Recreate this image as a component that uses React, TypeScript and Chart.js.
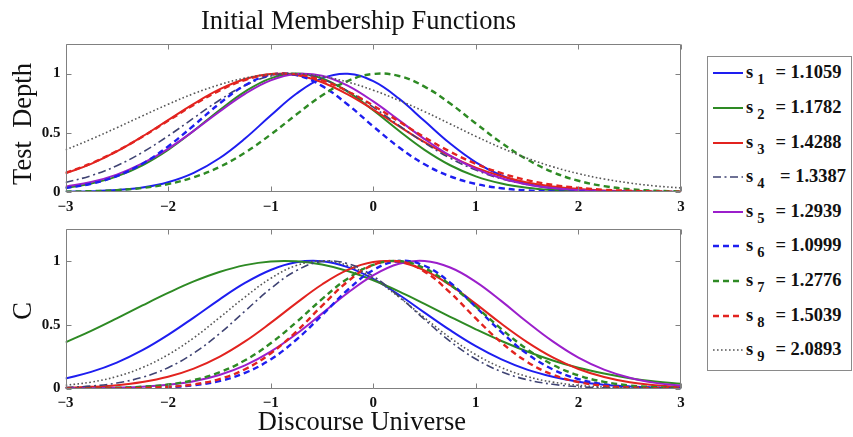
import React, { useEffect, useRef } from 'react';
import { Chart, registerables } from 'chart.js';

Chart.register(...registerables);

// ---------- data ----------
const X_GRID = [-3, -2.75, -2.5, -2.25, -2, -1.75, -1.5, -1.25, -1, -0.75, -0.5, -0.25, 0, 0.25, 0.5, 0.75, 1, 1.25, 1.5, 1.75, 2, 2.25, 2.5, 2.75, 3];

const X_TICKS = [-3, -2, -1, 0, 1, 2, 3];
const X_TICK_LABELS = ['\u22123', '\u22122', '\u22121', '0', '1', '2', '3'];
const Y_TICKS = [0, 0.5, 1];
const Y_TICK_LABELS = ['0', '0.5', '1'];

const TITLE = 'Initial Membership Functions';
const TOP_Y_TITLE = 'Test  Depth';
const BOTTOM_Y_TITLE = 'C';
const X_TITLE = 'Discourse Universe';

const SERIES_SUBSCRIPTS = ['1', '2', '3', '4', '5', '6', '7', '8', '9'];
const SERIES_S_TEXT = ['= 1.1059', '= 1.1782', '= 1.4288', ' = 1.3387', '= 1.2939', '= 1.0999', '= 1.2776', '= 1.5039', '= 2.0893'];

// Test Depth subplot
const TD_S1 = [0.002, 0.006, 0.016, 0.038, 0.083, 0.162, 0.285, 0.452, 0.646, 0.830, 0.960, 0.999, 0.936, 0.789, 0.599, 0.409, 0.251, 0.139, 0.069, 0.031, 0.013, 0.005, 0.002, 0.000, 0.000];
const TD_S2 = [0.035, 0.071, 0.132, 0.226, 0.356, 0.517, 0.690, 0.848, 0.960, 1.000, 0.960, 0.848, 0.690, 0.517, 0.356, 0.226, 0.132, 0.071, 0.035, 0.016, 0.007, 0.003, 0.001, 0.000, 0.000];
const TD_S3 = [0.157, 0.238, 0.343, 0.469, 0.607, 0.744, 0.866, 0.954, 0.997, 0.988, 0.927, 0.825, 0.696, 0.556, 0.421, 0.303, 0.206, 0.133, 0.081, 0.047, 0.026, 0.013, 0.007, 0.003, 0.001];
const TD_S4 = [0.081, 0.138, 0.222, 0.335, 0.473, 0.625, 0.775, 0.900, 0.979, 0.999, 0.954, 0.854, 0.717, 0.563, 0.415, 0.286, 0.185, 0.112, 0.064, 0.034, 0.017, 0.008, 0.003, 0.001, 0.001];
const TD_S5 = [0.045, 0.084, 0.147, 0.241, 0.365, 0.516, 0.678, 0.829, 0.943, 0.997, 0.982, 0.899, 0.765, 0.607, 0.447, 0.307, 0.196, 0.116, 0.064, 0.033, 0.016, 0.007, 0.003, 0.001, 0.000];
const TD_S6 = [0.033, 0.070, 0.135, 0.239, 0.385, 0.562, 0.746, 0.901, 0.989, 0.987, 0.896, 0.739, 0.554, 0.378, 0.234, 0.132, 0.068, 0.032, 0.013, 0.005, 0.002, 0.001, 0.000, 0.000, 0.000];
const TD_S7 = [0.003, 0.007, 0.016, 0.034, 0.067, 0.124, 0.211, 0.333, 0.485, 0.654, 0.815, 0.937, 0.997, 0.980, 0.890, 0.747, 0.579, 0.415, 0.275, 0.168, 0.095, 0.050, 0.024, 0.011, 0.004];
const TD_S8 = [0.161, 0.242, 0.345, 0.467, 0.601, 0.736, 0.856, 0.946, 0.994, 0.993, 0.943, 0.851, 0.730, 0.596, 0.462, 0.340, 0.238, 0.159, 0.100, 0.060, 0.035, 0.019, 0.010, 0.005, 0.002];
const TD_S9 = [0.356, 0.446, 0.543, 0.643, 0.741, 0.831, 0.906, 0.962, 0.994, 0.999, 0.976, 0.929, 0.860, 0.774, 0.679, 0.575, 0.470, 0.372, 0.286, 0.213, 0.155, 0.110, 0.076, 0.051, 0.034];

// C subplot
const C_S1 = [0.079, 0.130, 0.203, 0.300, 0.420, 0.556, 0.697, 0.827, 0.929, 0.989, 0.997, 0.951, 0.859, 0.735, 0.595, 0.457, 0.332, 0.228, 0.148, 0.092, 0.053, 0.030, 0.016, 0.008, 0.004];
const C_S2 = [0.361, 0.452, 0.550, 0.651, 0.749, 0.839, 0.913, 0.967, 0.996, 0.997, 0.972, 0.921, 0.848, 0.761, 0.663, 0.562, 0.464, 0.372, 0.290, 0.220, 0.162, 0.117, 0.081, 0.055, 0.037];
const C_S3 = [0.006, 0.013, 0.026, 0.051, 0.092, 0.156, 0.248, 0.369, 0.514, 0.669, 0.815, 0.930, 0.992, 0.991, 0.926, 0.810, 0.663, 0.507, 0.364, 0.244, 0.153, 0.090, 0.049, 0.025, 0.012];
const C_S4 = [0.008, 0.019, 0.043, 0.088, 0.163, 0.277, 0.429, 0.607, 0.783, 0.924, 0.995, 0.979, 0.880, 0.722, 0.541, 0.370, 0.231, 0.132, 0.069, 0.033, 0.014, 0.006, 0.002, 0.001, 0.000];
const C_S5 = [0.001, 0.002, 0.006, 0.013, 0.029, 0.057, 0.106, 0.181, 0.289, 0.427, 0.587, 0.749, 0.887, 0.977, 0.999, 0.948, 0.836, 0.685, 0.521, 0.369, 0.242, 0.148, 0.084, 0.044, 0.022];
const C_S6 = [0.000, 0.000, 0.001, 0.003, 0.010, 0.025, 0.058, 0.122, 0.228, 0.382, 0.574, 0.772, 0.928, 0.999, 0.962, 0.829, 0.639, 0.441, 0.272, 0.150, 0.074, 0.033, 0.013, 0.005, 0.002];
const C_S7 = [0.001, 0.002, 0.006, 0.014, 0.031, 0.066, 0.126, 0.221, 0.354, 0.520, 0.700, 0.861, 0.969, 0.999, 0.942, 0.813, 0.643, 0.465, 0.308, 0.186, 0.103, 0.052, 0.024, 0.010, 0.004];
const C_S8 = [0.000, 0.000, 0.001, 0.004, 0.013, 0.032, 0.074, 0.151, 0.275, 0.446, 0.648, 0.838, 0.968, 0.997, 0.916, 0.751, 0.549, 0.359, 0.209, 0.108, 0.050, 0.021, 0.008, 0.003, 0.001];
const C_S9 = [0.025, 0.050, 0.094, 0.164, 0.265, 0.397, 0.554, 0.717, 0.863, 0.964, 1.000, 0.964, 0.863, 0.717, 0.554, 0.397, 0.265, 0.164, 0.094, 0.050, 0.025, 0.011, 0.005, 0.002, 0.001];

const TEST_DEPTH_SERIES = [TD_S1, TD_S2, TD_S3, TD_S4, TD_S5, TD_S6, TD_S7, TD_S8, TD_S9];
const C_SERIES = [C_S1, C_S2, C_S3, C_S4, C_S5, C_S6, C_S7, C_S8, C_S9];

// ---------- styles ----------
const COLORS = ['#1e1ef0', '#2e8a24', '#e2231f', '#3f4373', '#9b1fcb', '#1e1ef0', '#2e8a24', '#e2231f', '#555555'];
const DASHES: number[][] = [[], [], [], [8, 3.5, 2, 3.5], [], [6, 4], [6, 4], [6, 4], [1.6, 2.4]];
const WIDTHS = [2, 2, 2, 1.6, 2, 2.4, 2.4, 2.4, 1.6];

const SERIF = "'Liberation Serif', 'Times New Roman', serif";
const TICK_FONT = { family: SERIF, size: 15, weight: 'bold' as const };

const framePlugin = {
  id: 'matlabFrame',
  afterDraw(chart: any) {
    const { ctx, chartArea: a, scales } = chart;
    const L = Math.round(a.left) + 0.5;
    const R = Math.round(a.right) - 0.5;
    const T = Math.round(a.top) + 0.5;
    const B = Math.round(a.bottom) - 0.5;
    const len = 5;
    ctx.save();
    ctx.strokeStyle = '#808080';
    ctx.lineWidth = 1;
    ctx.setLineDash([]);
    ctx.beginPath();
    ctx.rect(L, T, R - L, B - T);
    for (const t of scales.x.ticks) {
      const p = Math.round(scales.x.getPixelForValue(t.value)) + 0.5;
      ctx.moveTo(p, B);
      ctx.lineTo(p, B - len);
      ctx.moveTo(p, T);
      ctx.lineTo(p, T + len);
    }
    for (const t of scales.y.ticks) {
      const p = Math.round(scales.y.getPixelForValue(t.value)) + 0.5;
      ctx.moveTo(L, p);
      ctx.lineTo(L + len, p);
      ctx.moveTo(R, p);
      ctx.lineTo(R - len, p);
    }
    ctx.stroke();
    ctx.restore();
  },
};

function buildConfig(series: number[][], padTop: number, xHeight: number): any {
  return {
    type: 'line',
    data: {
      datasets: series.map((vals, i) => ({
        label: 's' + SERIES_SUBSCRIPTS[i],
        data: X_GRID.map((x, k) => ({ x, y: vals[k] })),
        borderColor: COLORS[i],
        backgroundColor: COLORS[i],
        borderWidth: WIDTHS[i],
        borderDash: DASHES[i],
        pointRadius: 0,
        tension: 0.4,
        fill: false,
        order: series.length - i,
      })),
    },
    options: {
      animation: false,
      responsive: false,
      maintainAspectRatio: false,
      events: [],
      layout: { padding: { top: padTop, right: 19, left: 0, bottom: 0 } },
      plugins: { legend: { display: false }, tooltip: { enabled: false }, title: { display: false } },
      scales: {
        x: {
          type: 'linear',
          min: -3,
          max: 3,
          afterBuildTicks: (s: any) => {
            s.ticks = X_TICKS.map((v) => ({ value: v }));
          },
          afterFit: (s: any) => {
            s.height = xHeight;
          },
          grid: { display: false, drawTicks: false },
          border: { display: false },
          ticks: {
            padding: 6,
            autoSkip: false,
            maxRotation: 0,
            color: '#111',
            font: TICK_FONT,
            callback: (_v: any, idx: number) => X_TICK_LABELS[idx],
          },
        },
        y: {
          type: 'linear',
          min: 0,
          max: 1.25,
          afterBuildTicks: (s: any) => {
            s.ticks = Y_TICKS.map((v) => ({ value: v }));
          },
          afterFit: (s: any) => {
            s.width = 65.5;
          },
          grid: { display: false, drawTicks: false },
          border: { display: false },
          ticks: {
            padding: 5,
            autoSkip: false,
            color: '#111',
            font: TICK_FONT,
            callback: (_v: any, idx: number) => Y_TICK_LABELS[idx],
          },
        },
      },
    },
    plugins: [framePlugin],
  };
}

function PlotCanvas(props: { series: number[][]; top: number; height: number; padTop: number; xHeight: number }) {
  const ref = useRef<HTMLCanvasElement | null>(null);
  useEffect(() => {
    if (!ref.current) return;
    const chart = new Chart(ref.current, buildConfig(props.series, props.padTop, props.xHeight));
    return () => chart.destroy();
  }, []);
  return (
    <canvas
      ref={ref}
      width={700}
      height={props.height}
      style={{ position: 'absolute', left: 0, top: props.top, width: 700, height: props.height }}
    />
  );
}

function RotatedLabel(props: { text: string; cx: number; cy: number; size: number }) {
  return (
    <div
      style={{
        position: 'absolute',
        left: props.cx,
        top: props.cy,
        transform: 'translate(-50%, -50%) rotate(-90deg)',
        fontFamily: SERIF,
        fontSize: props.size,
        lineHeight: props.size + 'px',
        whiteSpace: 'pre',
        color: '#111',
      }}
    >
      {props.text}
    </div>
  );
}

function LegendSample(props: { i: number }) {
  const i = props.i;
  return (
    <svg width={32} height={8} style={{ position: 'absolute', left: 0, top: -4 }}>
      <line
        x1={1}
        y1={4}
        x2={31}
        y2={4}
        stroke={COLORS[i]}
        strokeWidth={WIDTHS[i]}
        strokeDasharray={DASHES[i].length ? DASHES[i].join(' ') : undefined}
      />
    </svg>
  );
}

export default function App() {
  const rowY0 = 73.3;
  const rowStep = 34.6;
  return (
    <div style={{ position: 'absolute', left: 0, top: 0, width: 853, height: 437, background: '#fff', overflow: 'hidden' }}>
      <PlotCanvas series={TEST_DEPTH_SERIES} top={0} height={215} padTop={44} xHeight={23} />
      <PlotCanvas series={C_SERIES} top={215} height={222} padTop={8.5} xHeight={48.5} />

      <div
        style={{
          position: 'absolute',
          left: 0,
          width: 717,
          top: 6.5,
          textAlign: 'center',
          fontFamily: SERIF,
          fontSize: 26.5,
          lineHeight: '26px',
          color: '#111',
          whiteSpace: 'pre',
        }}
      >
        {TITLE}
      </div>

      <RotatedLabel text={TOP_Y_TITLE} cx={21.7} cy={123.5} size={26.5} />
      <RotatedLabel text={BOTTOM_Y_TITLE} cx={21.7} cy={311} size={26.5} />

      <div
        style={{
          position: 'absolute',
          left: 0,
          width: 724,
          top: 407.8,
          textAlign: 'center',
          fontFamily: SERIF,
          fontSize: 26.5,
          lineHeight: '26.5px',
          color: '#111',
          whiteSpace: 'pre',
        }}
      >
        {X_TITLE}
      </div>

      <div
        style={{
          position: 'absolute',
          left: 707,
          top: 56,
          width: 143,
          height: 313,
          border: '1px solid #8a8a8a',
          background: '#fff',
        }}
      />
      {SERIES_SUBSCRIPTS.map((sub, i) => {
        const y = rowY0 + i * rowStep;
        return (
          <div key={sub} style={{ position: 'absolute', left: 712, top: y, width: 1, height: 1 }}>
            <LegendSample i={i} />
            <div
              style={{
                position: 'absolute',
                left: 34,
                top: -10,
                fontFamily: SERIF,
                fontWeight: 'bold',
                fontSize: 18.5,
                lineHeight: '18px',
                whiteSpace: 'pre',
                color: '#111',
              }}
            >
              <span>s</span>
              <span style={{ fontSize: 14.5, position: 'relative', top: 6, marginLeft: 4 }}>{sub}</span>
              <span style={{ marginLeft: 11 }}>{SERIES_S_TEXT[i]}</span>
            </div>
          </div>
        );
      })}
    </div>
  );
}
